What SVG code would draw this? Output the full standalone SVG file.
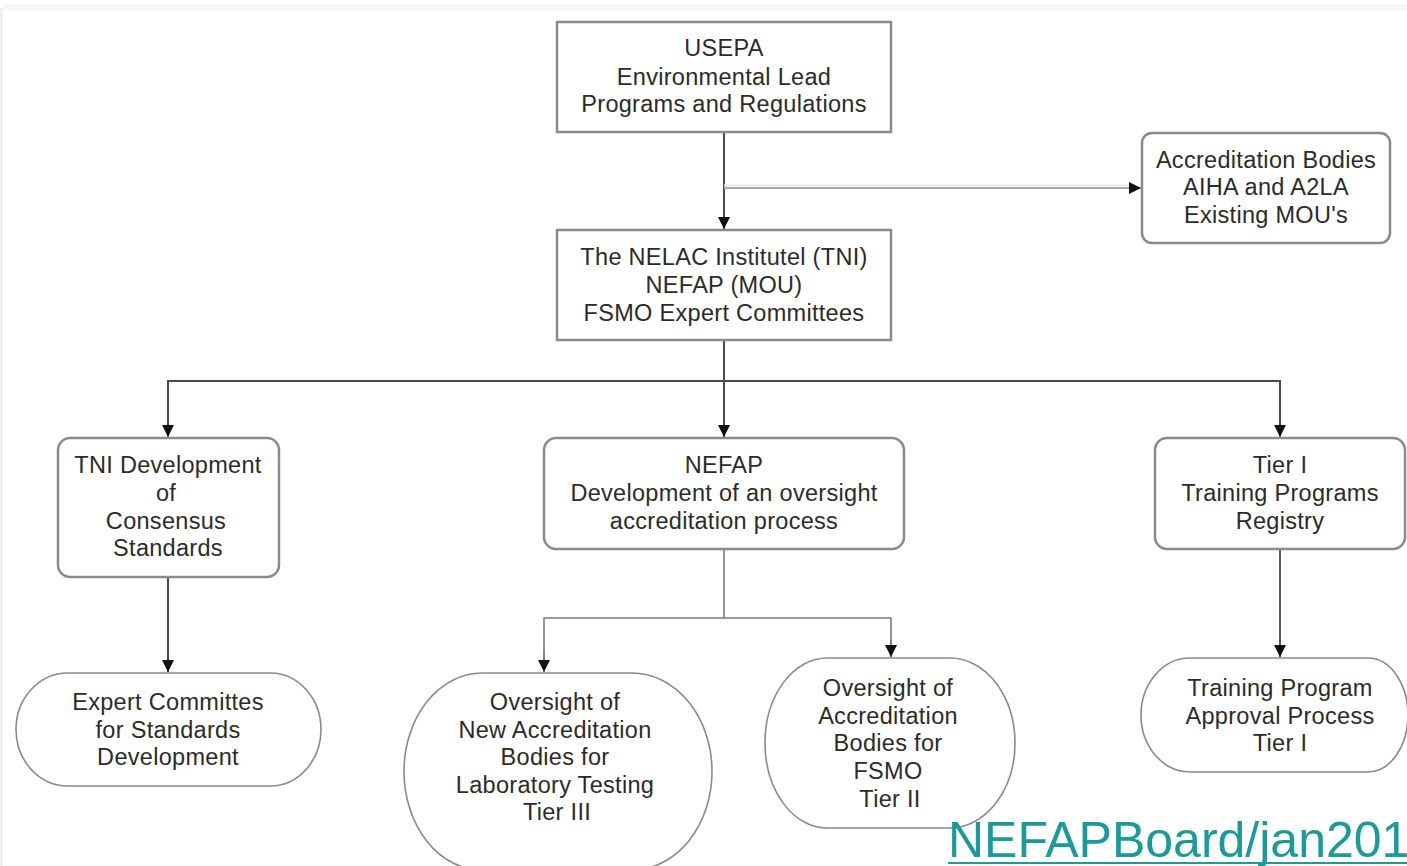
<svg xmlns="http://www.w3.org/2000/svg" width="1407" height="866" viewBox="0 0 1407 866">
<style>
.bx{fill:#fff;stroke:#8a8a8a;stroke-width:2.5}
.el{fill:#fff;stroke:#8a8a8a;stroke-width:1.6}
.t{font-family:"Liberation Sans",Arial,sans-serif;font-size:23.5px;fill:#2b2b2b;text-anchor:middle;letter-spacing:0.3px}
.c{fill:none;stroke:#4a4a4a;stroke-width:2}
.c2{fill:none;stroke:#7a7a7a;stroke-width:1.6}
.link{font-family:"Liberation Sans",Arial,sans-serif;font-size:50px;fill:#1a9b9a}
</style>
<defs>
<marker id="ah2" viewBox="0 0 10 10" refX="10" refY="5" markerWidth="12" markerHeight="12" orient="auto" markerUnits="userSpaceOnUse">
<path d="M0,0 L10,5 L0,10 z" fill="#111"/>
</marker>
</defs>
<rect width="1407" height="866" fill="#fff"/>
<rect x="3" y="4" width="1404" height="6" fill="#f6f6f6"/>
<rect x="0" y="8" width="3" height="858" fill="#efefef"/>

<g id="connectors">
<line class="c" x1="724" y1="132" x2="724" y2="229" marker-end="url(#ah2)"/>
<line x1="724" y1="185.5" x2="1132" y2="185.5" stroke="#ececec" stroke-width="2"/>
<line x1="724" y1="188" x2="1141" y2="188" stroke="#a8a8a8" stroke-width="2.2" marker-end="url(#ah2)"/>
<polyline class="c" points="724,340 724,381"/>
<polyline class="c" points="168,437 168,381 1280,381 1280,437" marker-end="url(#ah2)"/>
<line class="c" x1="168" y1="381" x2="168" y2="437" marker-end="url(#ah2)"/>
<line class="c" x1="724" y1="381" x2="724" y2="437" marker-end="url(#ah2)"/>
<line class="c" x1="168" y1="577" x2="168" y2="672" stroke="#666" marker-end="url(#ah2)"/>
<polyline class="c2" points="724,549 724,618"/>
<polyline class="c2" points="544,672 544,618 891,618 891,657"/>
<line x1="544" y1="650" x2="544" y2="672" stroke="#7a7a7a" stroke-width="1.6" marker-end="url(#ah2)"/>
<line x1="891" y1="640" x2="891" y2="657" stroke="#7a7a7a" stroke-width="1.6" marker-end="url(#ah2)"/>
<line x1="1280" y1="549" x2="1280" y2="657" stroke="#5a5a5a" stroke-width="2" marker-end="url(#ah2)"/>
</g>

<g id="usepa">
<rect class="bx" x="557" y="22" width="334" height="110"/>
<text class="t" x="724" y="56">USEPA</text>
<text class="t" x="724" y="85">Environmental Lead</text>
<text class="t" x="724" y="112">Programs and Regulations</text>
</g>

<g id="accreditation">
<rect class="bx" x="1142" y="133" width="248" height="110" rx="10"/>
<text class="t" x="1266" y="168">Accreditation Bodies</text>
<text class="t" x="1266" y="195">AIHA and A2LA</text>
<text class="t" x="1266" y="223">Existing MOU's</text>
</g>

<g id="tni">
<rect class="bx" x="557" y="230" width="334" height="110"/>
<text class="t" x="724" y="265">The NELAC Institutel (TNI)</text>
<text class="t" x="724" y="293">NEFAP (MOU)</text>
<text class="t" x="724" y="321">FSMO Expert Committees</text>
</g>

<g id="tnidev">
<rect class="bx" x="58" y="438" width="221" height="139" rx="12"/>
<text class="t" x="168" y="473">TNI Development</text>
<text class="t" x="166" y="501">of</text>
<text class="t" x="166" y="529">Consensus</text>
<text class="t" x="168" y="556">Standards</text>
</g>

<g id="nefap">
<rect class="bx" x="544" y="438" width="360" height="111" rx="12"/>
<text class="t" x="724" y="473">NEFAP</text>
<text class="t" x="724" y="501">Development of an oversight</text>
<text class="t" x="724" y="529">accreditation process</text>
</g>

<g id="tier1">
<rect class="bx" x="1155" y="438" width="250" height="111" rx="12"/>
<text class="t" x="1280" y="473">Tier I</text>
<text class="t" x="1280" y="501">Training Programs</text>
<text class="t" x="1280" y="529">Registry</text>
</g>

<g id="expert">
<path class="el" d="M68,673 H270 A51,56.5 0 0 1 270,786 H68 A52,56.5 0 0 1 68,673 Z"/>
<text class="t" x="168" y="710">Expert Committes</text>
<text class="t" x="168" y="738">for Standards</text>
<text class="t" x="168" y="765">Development</text>
</g>

<g id="newaccred">
<path class="el" d="M482,673 H632 A80,98.5 0 0 1 632,870 H482 A78,98.5 0 0 1 482,673 Z"/>
<text class="t" x="555" y="710">Oversight of</text>
<text class="t" x="555" y="738">New Accreditation</text>
<text class="t" x="555" y="765">Bodies for</text>
<text class="t" x="555" y="793">Laboratory Testing</text>
<text class="t" x="557" y="820">Tier III</text>
</g>

<g id="fsmo">
<path class="el" d="M827,658 H950 A65,85 0 0 1 950,828 H827 A62,85 0 0 1 827,658 Z"/>
<text class="t" x="888" y="696">Oversight of</text>
<text class="t" x="888" y="724">Accreditation</text>
<text class="t" x="888" y="751">Bodies for</text>
<text class="t" x="888" y="779">FSMO</text>
<text class="t" x="890" y="807">Tier II</text>
</g>

<g id="training">
<path class="el" d="M1190,658 H1368 A40,57 0 0 1 1368,772 H1190 A49,57 0 0 1 1190,658 Z"/>
<text class="t" x="1280" y="696">Training Program</text>
<text class="t" x="1280" y="724">Approval Process</text>
<text class="t" x="1280" y="751">Tier I</text>
</g>

<g id="link">
<text class="link" x="948" y="857">NEFAPBoard/jan201</text>
<line x1="948" y1="863" x2="1407" y2="863" stroke="#1a9b9a" stroke-width="2"/>
</g>
</svg>
